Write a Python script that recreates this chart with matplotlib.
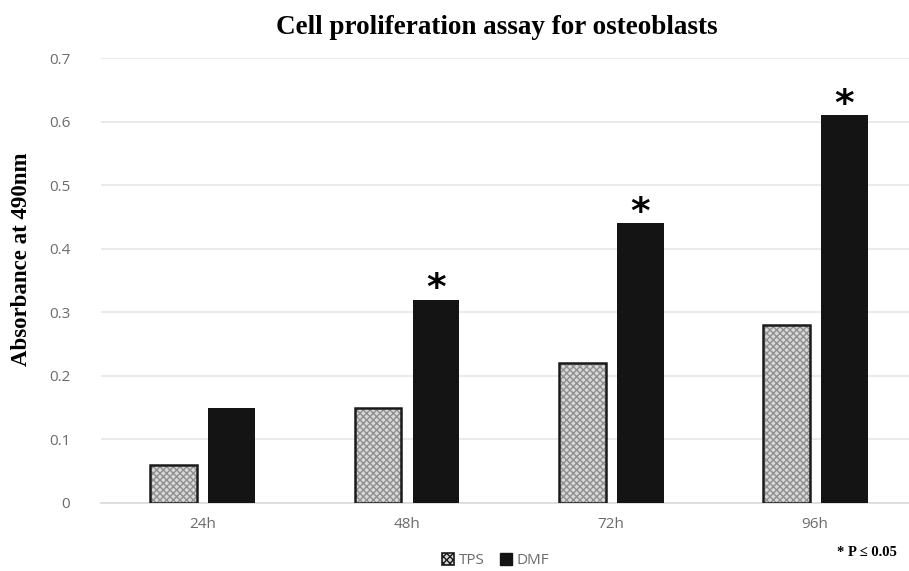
import matplotlib
matplotlib.use("Agg")
import matplotlib.pyplot as plt
import numpy as np
from matplotlib.patches import Patch

# data
times = ["24h", "48h", "72h", "96h"]
tps = [0.06, 0.15, 0.22, 0.28]
dmf = [0.15, 0.32, 0.44, 0.61]
signif = [False, True, True, True]

fig = plt.figure(figsize=(9.09, 5.71), dpi=100)
ax = fig.add_axes([0.111, 0.1191, 0.889, 0.7793])

x = np.arange(len(times))
w = 0.23
off = 0.142

# TPS: patterned fill, dark outline drawn separately
ax.bar(x - off, tps, w, color="#d8d8d8", edgecolor="#8f8f8f", hatch="xxxxx",
       linewidth=0, zorder=3)
ax.bar(x - off, tps, w, facecolor="none", edgecolor="#1a1a1a", linewidth=1.8,
       zorder=4)
ax.bar(x + off, dmf, w, color="#141414", edgecolor="#141414", linewidth=0,
       zorder=3)

for i in range(len(times)):
    if signif[i]:
        ax.text(x[i] + off, dmf[i] - 0.012, "*", ha="center", va="bottom",
                fontsize=27, fontweight="bold", family="DejaVu Sans", zorder=5)

ax.set_xlim(-0.5, 3.46)
ax.set_ylim(0, 0.7)
ax.set_yticks(np.arange(0, 0.71, 0.1))
ax.set_yticklabels(["0", "0.1", "0.2", "0.3", "0.4", "0.5", "0.6", "0.7"])
ax.set_xticks(x)
ax.set_xticklabels(times)
ax.grid(axis="y", color="#e6e6e6", linewidth=1.2, zorder=0)
ax.set_axisbelow(True)
for s in ["top", "right", "left"]:
    ax.spines[s].set_visible(False)
ax.spines["bottom"].set_color("#d9d9d9")
ax.spines["bottom"].set_linewidth(1.2)
ax.tick_params(length=0, labelsize=11, labelcolor="#6b6b6b", pad=10)
for t in ax.get_xticklabels() + ax.get_yticklabels():
    t.set_family("Open Sans")
ax.tick_params(axis="y", pad=22)

fig.text(0.547, 0.951, "Cell proliferation assay for osteoblasts", ha="center",
         va="center", fontsize=19.5, fontweight="bold", family="Liberation Serif")
fig.text(0.024, 0.546, "Absorbance at 490nm", rotation=90, ha="center",
         va="center", fontsize=16.5, fontweight="bold", family="Liberation Serif")
fig.text(0.987, 0.032, "* P \u2264 0.05", ha="right", va="center",
         fontsize=10.5, fontweight="bold", family="Liberation Serif")

handles = [Patch(facecolor="#d8d8d8", edgecolor="#1a1a1a", hatch="xxxxx",
                 linewidth=1.2),
           Patch(facecolor="#141414", edgecolor="#141414")]
leg = fig.legend(handles, ["TPS", "DMF"], loc="center", ncol=2,
                 bbox_to_anchor=(0.545, 0.018), frameon=False,
                 handlelength=0.8, handleheight=0.8, handletextpad=0.3,
                 columnspacing=1.0, prop={"family": "Open Sans", "size": 11})
for t in leg.get_texts():
    t.set_color("#6b6b6b")

fig.savefig("out.png", dpi=100)
